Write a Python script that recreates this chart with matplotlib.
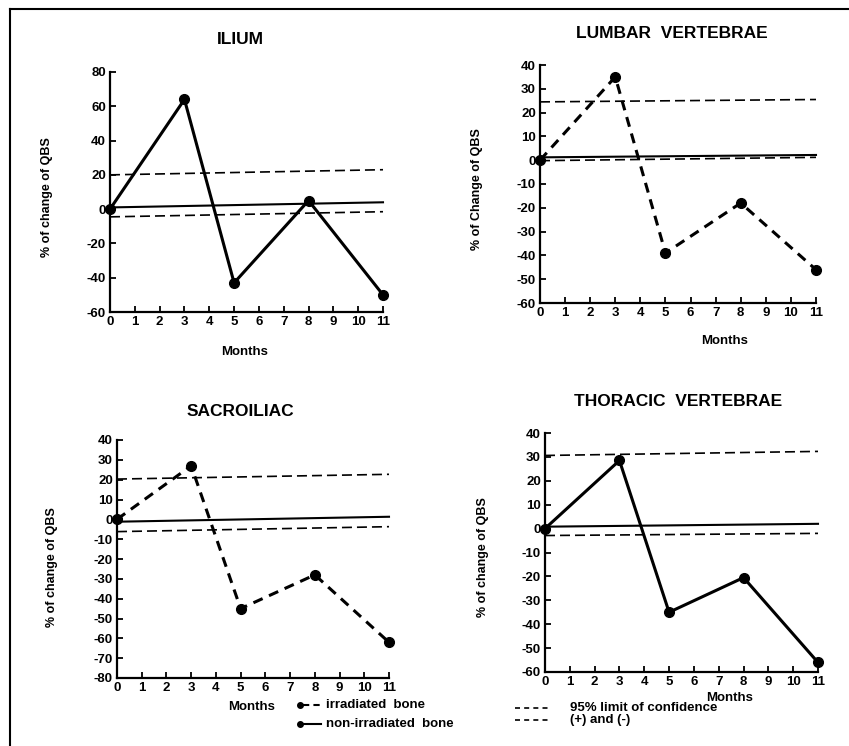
import matplotlib
matplotlib.use("Agg")
import matplotlib.pyplot as plt
from matplotlib.lines import Line2D

plt.rcParams['font.family'] = ['Liberation Sans', 'DejaVu Sans']
plt.rcParams['font.weight'] = 'bold'
plt.rcParams['axes.unicode_minus'] = False

W, H = 849, 746

# data
months = [0, 3, 5, 8, 11]
ilium = [0, 64, -43, 5, -50]
lumbar = [0, 35, -39, -18, -46]
sacroiliac = [0, 27, -45, -28, -62]
thoracic = [0, 28.5, -35, -20.5, -56]

# regression line and 95% limits, values at month 0 and month 11
line_x = [0, 11]
ilium_reg = [1, 4]
ilium_up = [20, 23]
ilium_low = [-4.5, -1.5]
lumbar_reg = [1.2, 2.2]
lumbar_up = [24.5, 25.5]
lumbar_low = [-0.2, 1.2]
sacro_reg = [-1.2, 1.3]
sacro_up = [20.3, 22.7]
sacro_low = [-6.2, -3.7]
thor_reg = [0.8, 2.0]
thor_up = [30.6, 32.3]
thor_low = [-2.9, -2.0]

panels = [
    # title, values, irradiated?, reg, up, low, ylim, ystep, ylabel
    ("ILIUM", ilium, False, ilium_reg, ilium_up, ilium_low, (-60, 80), 20,
     "% of change of QBS"),
    ("LUMBAR  VERTEBRAE", lumbar, True, lumbar_reg, lumbar_up, lumbar_low,
     (-60, 40), 10, "% of Change of QBS"),
    ("SACROILIAC", sacroiliac, True, sacro_reg, sacro_up, sacro_low,
     (-80, 40), 10, "% of change of QBS"),
    ("THORACIC  VERTEBRAE", thoracic, False, thor_reg, thor_up, thor_low,
     (-60, 40), 10, "% of change of QBS"),
]

# layout in pixels: axes box (left, right, top, bottom), title xy, months xy, ylabel xy
layout = [
    ((110, 383, 72, 312), (240, 40), (245, 352), (47, 197)),
    ((540, 816, 65, 303), (672, 33), (725, 341), (477, 189)),
    ((117, 389, 440, 678), (240, 412), (252, 707), (52, 567)),
    ((545, 818, 433, 672), (678, 402), (730, 698), (483, 557)),
]


def fx(x):
    return x / W


def fy(y):
    return 1 - y / H


fig = plt.figure(figsize=(W / 100, H / 100), dpi=100)

for (title, vals, irr, reg, up, low, ylim, ystep, ylab), lay in zip(panels, layout):
    (l, r, t, b), tpos, mpos, ypos = lay
    ax = fig.add_axes([fx(l), fy(b), (r - l) / W, (b - t) / H])
    ls = (0, (3.3, 2.3)) if irr else '-'
    ax.plot(months, vals, color='black', lw=2.2, linestyle=ls, marker='o',
            markersize=7, clip_on=False, zorder=3)
    ax.plot(line_x, reg, color='black', lw=1.5, clip_on=False)
    ax.plot(line_x, up, color='black', lw=1.2, linestyle=(0, (6, 3)), clip_on=False)
    ax.plot(line_x, low, color='black', lw=1.2, linestyle=(0, (6, 3)), clip_on=False)
    ax.set_xlim(0, 11)
    ax.set_ylim(*ylim)
    ax.set_xticks(range(0, 12))
    ax.set_yticks(range(ylim[0], ylim[1] + 1, ystep))
    for s in ['top', 'right']:
        ax.spines[s].set_visible(False)
    for s in ['left', 'bottom']:
        ax.spines[s].set_linewidth(1.6)
    ax.tick_params(direction='in', length=4, width=1.3, labelsize=9.5, pad=3)
    for lbl in ax.get_xticklabels() + ax.get_yticklabels():
        lbl.set_fontweight('bold')
    fig.text(fx(tpos[0]), fy(tpos[1]), title, ha='center', va='center',
             fontsize=12.5, fontweight='bold')
    fig.text(fx(mpos[0]), fy(mpos[1]), "Months", ha='center', va='center',
             fontsize=9.5, fontweight='bold')
    fig.text(fx(ypos[0]), fy(ypos[1]), ylab, ha='center', va='center',
             rotation=90, fontsize=9, fontweight='bold')

# legend, bottom
def seg(x0, x1, y, **kw):
    fig.add_artist(Line2D([fx(x0), fx(x1)], [fy(y), fy(y)], color='black', **kw))

seg(303, 320, 705, lw=1.5, linestyle=(0, (3, 2)))
fig.add_artist(Line2D([fx(300)], [fy(705)], marker='o', markersize=4, color='black'))
seg(300, 321, 724, lw=1.5)
fig.add_artist(Line2D([fx(300)], [fy(724)], marker='o', markersize=4, color='black'))
fig.text(fx(326), fy(705), "irradiated  bone", ha='left', va='center',
         fontsize=9.5, fontweight='bold')
fig.text(fx(326), fy(724), "non-irradiated  bone", ha='left', va='center',
         fontsize=9.5, fontweight='bold')

seg(515, 548, 708, lw=1.2, linestyle=(0, (3, 2.5)))
seg(515, 548, 720, lw=1.2, linestyle=(0, (3, 2.5)))
fig.text(fx(570), fy(708), "95% limit of confidence", ha='left', va='center',
         fontsize=9.5, fontweight='bold')
fig.text(fx(570), fy(720), "(+) and (-)", ha='left', va='center',
         fontsize=9.5, fontweight='bold')

# frame of the page
fig.add_artist(Line2D([fx(10), fx(849)], [fy(9), fy(9)], color='black', lw=1.5))
fig.add_artist(Line2D([fx(10), fx(10)], [fy(9), fy(746)], color='black', lw=1.5))

fig.savefig("out.png", dpi=100)
